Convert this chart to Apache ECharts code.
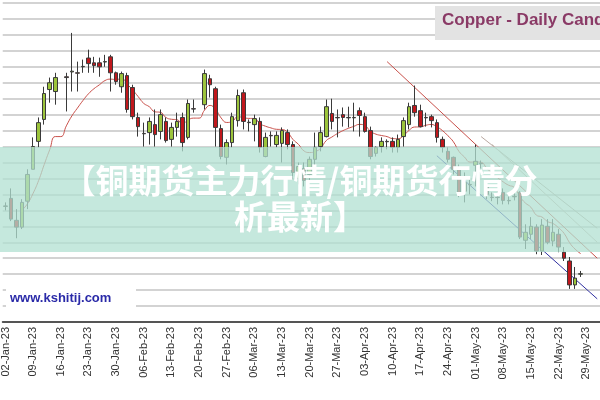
<!DOCTYPE html>
<html>
<head>
<meta charset="utf-8">
<script src="https://cdn.jsdelivr.net/npm/echarts@6/dist/echarts.min.js"></script>
<style>html,body{margin:0;padding:0;background:#fff}#chart{width:600px;height:400px}</style>
</head>
<body>
<div id="chart"></div>
<script>
// 交易日（从 2023-01-02 起的工作日）
var dayCount = 108;
var months = ['Jan','Feb','Mar','Apr','May','Jun'];
var dates = [];
(function(){
    var d = new Date(Date.UTC(2023,0,2));
    while (dates.length < dayCount) {
        var w = d.getUTCDay();
        if (w !== 0 && w !== 6) {
            var dd = ('0' + d.getUTCDate()).slice(-2);
            dates.push(dd + '-' + months[d.getUTCMonth()] + '-23');
        }
        d.setUTCDate(d.getUTCDate() + 1);
    }
})();

// [open, close, low, high]，按交易日序号；'-' 为休市
var candles = [
 [3.890,3.891,3.880,3.900],[3.910,3.858,3.853,3.935],[3.855,3.838,3.810,3.883],[3.838,3.900,3.833,3.908],
 [3.903,3.970,3.883,3.983],[3.983,4.040,3.983,4.063],[4.053,4.100,4.038,4.113],[4.108,4.173,4.095,4.190],
 [4.183,4.200,4.150,4.213],[4.178,4.213,4.145,4.225],'-',[4.215,4.213,4.128,4.225],
 [4.227,4.229,4.178,4.325],[4.225,4.224,4.178,4.253],[4.240,4.241,4.225,4.258],[4.262,4.248,4.225,4.283],
 [4.250,4.243,4.225,4.265],[4.250,4.240,4.215,4.263],[4.252,4.253,4.240,4.270],[4.265,4.225,4.178,4.270],
 [4.225,4.203,4.195,4.228],[4.190,4.223,4.175,4.228],[4.218,4.133,4.125,4.225],[4.188,4.115,4.108,4.195],
 [4.113,4.090,4.065,4.125],[4.073,4.072,4.040,4.100],[4.075,4.103,4.045,4.113],[4.095,4.070,4.040,4.133],
 [4.078,4.120,4.058,4.133],[4.103,4.055,4.050,4.113],[4.058,4.088,4.040,4.100],[4.088,4.103,4.065,4.125],
 [4.113,4.050,4.028,4.125],[4.063,4.148,4.058,4.158],[4.135,4.134,4.125,4.158],'-',
 [4.145,4.223,4.133,4.233],[4.210,4.195,4.163,4.220],[4.185,4.088,4.040,4.190],[4.085,4.015,4.008,4.095],
 [4.013,4.050,3.995,4.058],[4.050,4.115,4.038,4.125],[4.105,4.168,4.090,4.183],[4.175,4.103,4.083,4.183],
 [4.100,4.101,4.078,4.108],[4.095,4.110,4.053,4.120],[4.103,4.038,4.025,4.113],[4.015,4.063,4.013,4.075],
 [4.068,4.067,4.040,4.078],[4.045,4.068,4.038,4.078],[4.048,4.080,4.000,4.088],[4.075,4.045,4.033,4.083],
 [4.045,3.975,3.958,4.053],[3.960,3.990,3.945,4.000],[3.985,3.955,3.940,4.000],[3.970,4.008,3.950,4.015],
 [4.008,4.038,3.990,4.075],[4.040,4.075,4.028,4.090],[4.065,4.140,4.063,4.158],[4.123,4.103,4.083,4.160],
 [4.113,4.112,4.063,4.133],[4.120,4.113,4.090,4.138],[4.113,4.112,4.088,4.140],[4.112,4.113,4.078,4.150],
 [4.130,4.118,4.065,4.138],[4.115,4.078,4.075,4.125],[4.080,4.015,4.008,4.090],[4.023,4.038,4.015,4.040],
 [4.040,4.053,4.025,4.063],[4.053,4.052,4.033,4.058],[4.053,4.038,4.025,4.063],[4.038,4.058,4.025,4.070],
 [4.065,4.105,4.040,4.113],[4.095,4.140,4.083,4.150],[4.143,4.125,4.115,4.193],[4.130,4.090,4.088,4.145],
 [4.113,4.112,4.090,4.125],[4.115,4.105,4.088,4.120],[4.100,4.063,4.050,4.108],[4.058,4.038,4.025,4.065],
 [4.028,4.008,4.000,4.038],[4.013,3.983,3.970,4.015],[3.983,3.920,3.913,3.995],[3.928,3.950,3.900,3.975],
 [3.945,3.944,3.920,3.958],[3.993,4.003,3.940,4.045],[3.998,3.997,3.985,4.005],[3.938,3.920,3.908,3.943],
 [3.913,3.912,3.903,3.925],[3.912,3.913,3.895,3.933],[3.925,3.905,3.895,3.935],[3.905,3.904,3.895,3.915],
 [3.915,3.914,3.905,3.925],[3.925,3.813,3.808,3.928],[3.805,3.825,3.783,3.845],[3.820,3.840,3.808,3.863],
 [3.838,3.778,3.770,3.845],[3.778,3.843,3.768,3.858],[3.840,3.800,3.795,3.858],[3.803,3.825,3.790,3.858],
 [3.820,3.788,3.775,3.833],[3.775,3.760,3.753,3.788],[3.753,3.693,3.683,3.763],[3.693,3.710,3.683,3.738],
 [3.720,3.721,3.713,3.728]
];

// 趋势线端点 [交易日序号, 价格]
var redTrend = [[69, 4.253], [107, 3.760]];
var grayTrend1 = [[86, 4.065], [107, 3.835]];
var grayTrend2 = [[88, 4.045], [107, 3.800]];
var blueTrend = [[78, 4.017], [107, 3.658]];

// 收盘价的指数均线
var ema = [];
(function(){
    var k = 2 / (10 + 1), prev = null;
    for (var i = 0; i < candles.length; i++) {
        var c = candles[i];
        if (c === '-') { ema.push(prev === null ? '-' : +prev.toFixed(4)); continue; }
        prev = prev === null ? c[1] : prev + k * (c[1] - prev);
        ema.push(i < 3 ? '-' : +prev.toFixed(4));
    }
})();

function trendSeries(pts, color, w) {
    return {
        type: 'line', symbol: 'none', silent: true, z: 3,
        data: pts.map(function(p){ return [dates[p[0]], p[1]]; }),
        lineStyle: { color: color, width: w }
    };
}

var myChart = echarts.init(document.getElementById('chart'));
var option = {
    animation: false,
    grid: { left: 2, right: 0, top: 3, bottom: 78 },
    xAxis: {
        type: 'category',
        data: dates,
        axisLine: { lineStyle: { color: '#555', width: 2 } },
        axisTick: { show: false },
        axisLabel: {
            interval: 4, rotate: 90, color: '#333',
            fontFamily: 'Liberation Sans', fontSize: 11, margin: 5
        },
        splitLine: { show: false }
    },
    yAxis: {
        type: 'value', min: 3.6, max: 4.4, interval: 0.04,
        axisLine: { show: false }, axisTick: { show: false }, axisLabel: { show: false },
        splitLine: { lineStyle: { color: '#c4c4c4', width: 1.5 } }
    },
    series: [
        {
            type: 'candlestick',
            data: candles,
            barWidth: 4,
            itemStyle: {
                color: '#9cc43c', color0: '#c0171c',
                borderColor: '#3a3a3a', borderColor0: '#3a3a3a', borderWidth: 1
            },
            z: 4
        },
        {
            type: 'line', data: ema, symbol: 'none', smooth: true, z: 3,
            lineStyle: { color: '#c8504a', width: 1 }
        },
        trendSeries(redTrend, '#c8504a', 1),
        trendSeries(grayTrend1, '#b8a8a0', 1),
        trendSeries(grayTrend2, '#c9b8b0', 1),
        trendSeries(blueTrend, '#3030a0', 1)
    ],
    graphic: [
        { type: 'rect', z: 100, shape: { x: 435, y: 6, width: 170, height: 34 }, style: { fill: '#e3e3e3' } },
        { type: 'text', z: 101, left: 442, top: 12,
          style: { text: 'Copper - Daily Cand', fill: '#8a3a66', font: 'bold 17px "Liberation Sans"' } },
        { type: 'rect', z: 100, shape: { x: 6, y: 288, width: 130, height: 22 }, style: { fill: '#ffffff' } },
        { type: 'text', z: 101, left: 10, top: 292,
          style: { text: 'www.kshitij.com', fill: '#2a2aa8', font: 'bold 13px "Liberation Sans"' } },
        { type: 'rect', z: 200, shape: { x: 0, y: 147, width: 600, height: 105 },
          style: { fill: 'rgba(178,224,210,0.75)' } },
        { type: 'text', z: 201, left: 'center', top: 164,
          style: { text: '【铜期货主力行情/铜期货行情分', fill: '#ffffff',
                   font: 'bold 33px "Noto Sans CJK SC"' } },
        { type: 'text', z: 201, left: 'center', top: 200,
          style: { text: '析最新】', fill: '#ffffff',
                   font: 'bold 33px "Noto Sans CJK SC"' } }
    ]
};
myChart.setOption(option);
</script>
</body>
</html>
